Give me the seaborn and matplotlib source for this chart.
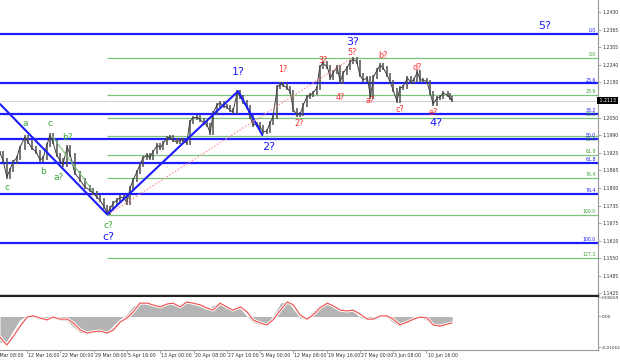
import numpy as np
import pandas as pd
import matplotlib
matplotlib.use("Agg")
import matplotlib.pyplot as plt
import matplotlib.transforms as mtransforms
import seaborn as sns

# price path (H4 bar index, close)
price_t = [0, 4, 9, 13, 17, 22, 26, 33, 37, 42, 48, 53, 57, 62, 66, 70, 75, 79, 83, 89,
           93, 99, 106, 112, 119, 123, 128, 132, 138, 142, 146, 150, 155, 159, 164, 168, 172, 176, 181, 185,
           189, 195, 198, 202, 208, 212, 216, 221, 225, 229, 234, 238, 242, 247, 251, 255, 261, 265, 270, 274,
           278, 282, 287, 291, 296, 300, 304, 308, 314, 318, 322, 327, 331, 335, 340, 344, 348, 353, 357, 361,
           367, 371, 374, 380, 384, 388, 393, 397, 401, 406, 410, 414, 419, 423, 427, 433, 437, 441, 446, 450,
           454, 459, 463, 467, 472, 476, 480, 486, 490, 494, 499, 503, 507, 512, 516, 520, 525, 529, 533, 539,
           543, 547, 552, 556, 560, 565, 569, 573, 578, 582, 586, 592, 595, 598]
price_close = [1.1926, 1.1901, 1.1840, 1.1865, 1.1893, 1.1908, 1.1944, 1.1983, 1.1965, 1.1944,
               1.1929, 1.1901, 1.1908, 1.1954, 1.1990, 1.1965, 1.1918, 1.1901, 1.1883, 1.1947,
               1.1918, 1.1854, 1.1829, 1.1804, 1.1793, 1.1783, 1.1768, 1.1758, 1.1732, 1.1711,
               1.1729, 1.1747, 1.1758, 1.1768, 1.1765, 1.1747, 1.1800, 1.1829, 1.1858, 1.1883,
               1.1908, 1.1918, 1.1908, 1.1929, 1.1954, 1.1944, 1.1961, 1.1979, 1.1983, 1.1972,
               1.1965, 1.1972, 1.1972, 1.1961, 1.2037, 1.2051, 1.2054, 1.2044, 1.2033, 1.2026,
               1.1997, 1.2069, 1.2097, 1.2105, 1.2094, 1.2090, 1.2080, 1.2072, 1.2144, 1.2126,
               1.2108, 1.2090, 1.2054, 1.2026, 1.2029, 1.2019, 1.2001, 1.2004, 1.2033, 1.2054,
               1.2162, 1.2172, 1.2169, 1.2158, 1.2144, 1.2080, 1.2062, 1.2065, 1.2097, 1.2126,
               1.2133, 1.2140, 1.2158, 1.2233, 1.2248, 1.2233, 1.2194, 1.2215, 1.2233, 1.2180,
               1.2212, 1.2230, 1.2251, 1.2262, 1.2251, 1.2205, 1.2187, 1.2194, 1.2126, 1.2198,
               1.2223, 1.2240, 1.2230, 1.2205, 1.2180, 1.2151, 1.2112, 1.2158, 1.2162, 1.2194,
               1.2180, 1.2187, 1.2215, 1.2187, 1.2187, 1.2180, 1.2140, 1.2101, 1.2122, 1.2126,
               1.2140, 1.2133, 1.2122, 1.2115]
last_price = 1.2113

# oscillator (MACD histogram + signal)
osc_t = [0, 9, 17, 26, 36, 44, 53, 62, 70, 79, 89, 97, 106, 115, 123, 132, 142, 150, 159, 168,
         176, 185, 195, 202, 212, 221, 229, 238, 247, 255, 265, 274, 282, 291, 300, 308, 318, 327, 335, 344,
         353, 361, 371, 380, 388, 397, 406, 414, 423, 433, 441, 450, 459, 467, 476, 486, 494, 503, 512, 520,
         529, 539, 547, 556, 565, 573, 582, 592, 598]
osc_main = [-0.0090, -0.0085, -0.0050, -0.0012, 0.0004, -0.0002, -0.0010, -0.0006, -0.0004, -0.0012,
            -0.0015, -0.0035, -0.0055, -0.0056, -0.0050, -0.0055, -0.0052, -0.0030, -0.0008, 0.0008,
            0.0035, 0.0050, 0.0042, 0.0036, 0.0040, 0.0048, 0.0040, 0.0042, 0.0050, 0.0044,
            0.0034, 0.0024, 0.0038, 0.0042, 0.0028, 0.0028, 0.0026, 0.0000, -0.0020, -0.0027,
            -0.0026, 0.0002, 0.0045, 0.0055, 0.0025, -0.0005, -0.0004, 0.0018, 0.0040, 0.0048,
            0.0030, 0.0020, 0.0024, 0.0018, -0.0002, -0.0012, -0.0004, 0.0004, -0.0002, -0.0020,
            -0.0034, -0.0014, -0.0004, -0.0002, -0.0014, -0.0034, -0.0030, -0.0022, -0.0018]
osc_signal = [-0.0071, -0.0098, -0.0071, -0.0036, -0.0002, 0.0002, -0.0005, -0.0012, -0.0002, -0.0009,
              -0.0009, -0.0022, -0.0046, -0.0057, -0.0053, -0.0050, -0.0057, -0.0046, -0.0019, -0.0005,
              0.0015, 0.0046, 0.0046, 0.0040, 0.0033, 0.0043, 0.0046, 0.0033, 0.0050, 0.0046,
              0.0040, 0.0029, 0.0022, 0.0046, 0.0033, 0.0022, 0.0033, 0.0015, -0.0012, -0.0022,
              -0.0029, -0.0012, 0.0022, 0.0050, 0.0040, 0.0005, -0.0009, 0.0005, 0.0029, 0.0046,
              0.0036, 0.0022, 0.0019, 0.0022, 0.0009, -0.0009, -0.0009, 0.0002, 0.0002, -0.0009,
              -0.0029, -0.0019, -0.0009, -0.0002, -0.0005, -0.0029, -0.0033, -0.0026, -0.0022]

# fibonacci grids
fib_levels = [0.0, 23.6, 38.2, 50.0, 61.8, 76.4, 100.0, 127.2]
blue_fib = (1.2351, 1.1604)   # price at 0 % and 100 %
green_fib = (1.2266, 1.1704)
green_fib_start = 142

# wave lines
blue_wave_t = [0, 142, 315, 347]
blue_wave_p = [1.2101, 1.1706, 1.2147, 1.1990]
green_line_t = [69, 122]
green_line_p = [1.1986, 1.1793]
red_dot_t = [146, 466]
red_dot_p = [1.1711, 1.2266]

# wave labels
green_labels = [("a", 33, 1.2033), ("b", 57, 1.1858), ("c", 66, 1.2033), ("b?", 89, 1.1983),
                ("a?", 77, 1.1840), ("c", 9, 1.1804), ("c?", 143, 1.1668)]
blue_labels = [("c?", 143, 1.1625), ("1?", 315, 1.2215), ("2?", 355, 1.1947),
               ("3?", 466, 1.2323), ("4?", 576, 1.2033), ("5?", 721, 1.2380)]
red_labels = [("1?", 374, 1.2223), ("2?", 396, 1.2033), ("3?", 427, 1.2258), ("4?", 450, 1.2126),
              ("5?", 466, 1.2287), ("a?", 490, 1.2112), ("b?", 506, 1.2276), ("c?", 529, 1.2083),
              ("d?", 552, 1.2233), ("e?", 573, 1.2072)]

price_ticks = [1.2430, 1.2365, 1.2305, 1.2240, 1.2180, 1.2050, 1.1990, 1.1925, 1.1865,
               1.1800, 1.1735, 1.1675, 1.1610, 1.1550, 1.1485, 1.1425]
osc_ticks = [0.00659, 0.0, -0.01062]
osc_tick_labels = ["0.00659", "0.00", "-0.01062"]
date_t = [-8, 36, 80, 124, 168, 212, 256, 300, 344, 388, 432, 476, 520, 564]
date_labels = ["3 Mar 08:00", "12 Mar 16:00", "22 Mar 00:00", "29 Mar 08:00", "5 Apr 16:00",
               "13 Apr 00:00", "20 Apr 08:00", "27 Apr 16:00", "5 May 00:00", "12 May 08:00",
               "19 May 16:00", "27 May 00:00", "3 Jun 08:00", "10 Jun 16:00"]

BLUE = "#1c1cff"
GREEN = "#7cc47c"
RED = "#ff3030"
XMAX = 791

sns.set_style("white")
plt.rcParams["font.family"] = ["DejaVu Sans"]

fig = plt.figure(figsize=(6.2, 3.61), dpi=100)
ax = fig.add_axes([0, 0.1828, 0.9645, 0.8172])
ax2 = fig.add_axes([0, 0.0305, 0.9645, 0.1496])

# price bars: each bar from previous close to current close
df = pd.DataFrame({"t": price_t, "close": price_close})
df["open"] = df["close"].shift(1).fillna(df["close"])
ax.vlines(df["t"], df[["open", "close"]].min(axis=1) - 0.0008,
          df[["open", "close"]].max(axis=1) + 0.0008, color="#505050", lw=1.1, zorder=3)
sns.lineplot(data=df, x="t", y="close", ax=ax, color="#404040", lw=0.7, zorder=3)

# fib lines
for lv in fib_levels:
    pb = blue_fib[0] - (blue_fib[0] - blue_fib[1]) * lv / 100
    pg = green_fib[0] - (green_fib[0] - green_fib[1]) * lv / 100
    if lv <= 100:
        ax.hlines(pb, 0, XMAX, color=BLUE, lw=1.6, zorder=2)
        ax.text(XMAX - 3, pb + 0.0003, f"{lv:.1f}", color=BLUE, fontsize=3.3,
                ha="right", va="bottom")
    ax.hlines(pg, green_fib_start, XMAX, color=GREEN, lw=0.9, zorder=2)
    below = lv == 50.0
    ax.text(XMAX - 3, pg - 0.0003 if below else pg + 0.0003, f"{lv:.1f}", color="#3a9a3a",
            fontsize=3.3, ha="right", va="top" if below else "bottom")

ax.axhline(last_price, color="#c8c8c8", lw=0.6, zorder=1)

ax.plot(blue_wave_t, blue_wave_p, color=BLUE, lw=1.5, zorder=4)
ax.plot(green_line_t, green_line_p, color=GREEN, lw=0.8, zorder=4)
ax.plot(red_dot_t, red_dot_p, color="#ff9090", lw=0.8, ls=(0, (1.5, 1.5)), zorder=4)

for txt, t, p in green_labels:
    ax.text(t, p, txt, color="#3aa83a", fontsize=6.5, ha="center", va="center", zorder=5)
for txt, t, p in blue_labels:
    ax.text(t, p, txt, color=BLUE, fontsize=8, ha="center", va="center", zorder=5)
for txt, t, p in red_labels:
    ax.text(t, p, txt, color=RED, fontsize=5.8, ha="center", va="center", zorder=5)

ax.set_xlim(0, XMAX)
ax.set_ylim(1.1418, 1.2473)
ax.yaxis.tick_right()
ax.set_yticks(price_ticks)
ax.set_yticklabels([f"{v:.4f}" for v in price_ticks], fontsize=3.3, color="#333333")
ax.tick_params(axis="y", length=2, width=0.5, pad=1, color="#888888")
ax.set_xticks([])
ax.set_xlabel("")
ax.set_ylabel("")
for s in ["left", "top"]:
    ax.spines[s].set_visible(False)
ax.spines["right"].set_color("#999999")
ax.spines["right"].set_linewidth(0.8)
ax.spines["bottom"].set_color("#222222")
ax.spines["bottom"].set_linewidth(1.0)

ax.text(1.0, last_price, " 1.2113 ", transform=mtransforms.blended_transform_factory(ax.transAxes, ax.transData),
        color="white", fontsize=3.3, ha="left", va="center",
        bbox=dict(facecolor="black", edgecolor="none", pad=0.6), clip_on=False)

# oscillator panel
odf = pd.DataFrame({"t": osc_t, "main": osc_main, "signal": osc_signal})
ax2.fill_between(odf["t"], 0, odf["main"], color="#b4b4b4", lw=0)
ax2.plot(odf["t"], odf["signal"], color="white", lw=2.2)
sns.lineplot(data=odf, x="t", y="signal", ax=ax2, color="#f04848", lw=0.8)
ax2.set_xlim(0, XMAX)
ax2.set_ylim(-0.01153, 0.00706)
ax2.yaxis.tick_right()
ax2.set_yticks(osc_ticks)
ax2.set_yticklabels(osc_tick_labels, fontsize=3.1, color="#333333")
ax2.tick_params(axis="y", length=2, width=0.5, pad=1, color="#888888")
ax2.set_xticks([])
ax2.set_xlabel("")
ax2.set_ylabel("")
ax2.spines["left"].set_visible(False)
ax2.spines["top"].set_color("#222222")
ax2.spines["right"].set_color("#999999")
ax2.spines["bottom"].set_color("#999999")
for s in ax2.spines.values():
    s.set_linewidth(0.8)

tr = mtransforms.blended_transform_factory(ax2.transData, ax2.transAxes)
for t, lab in zip(date_t, date_labels):
    ax2.plot([t, t], [0, -0.06], transform=tr, color="#888888", lw=0.5, clip_on=False)
    ax2.text(t + 1.5, -0.05, lab, transform=tr, fontsize=3.4, color="#333333",
             ha="left", va="top", clip_on=False)

fig.savefig("out.png", dpi=100)
